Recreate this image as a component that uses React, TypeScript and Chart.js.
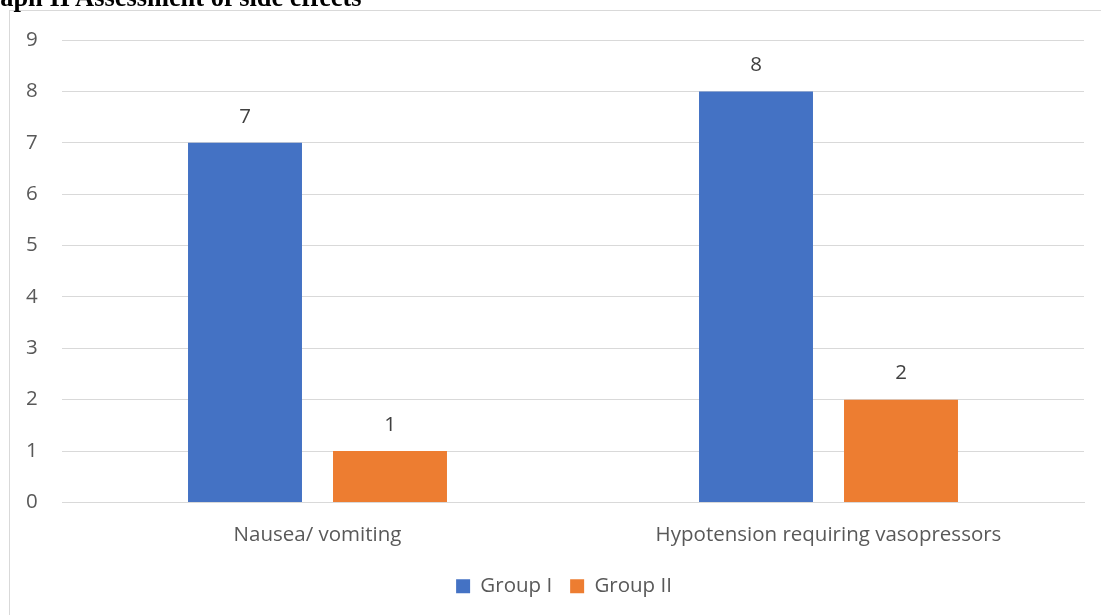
import React, { useEffect, useRef } from "react";
import { Chart, registerables } from "chart.js";

Chart.register(...registerables);

const categories = ["Nausea/ vomiting", "Hypotension requiring vasopressors"];
const seriesNames = ["Group I", "Group II"];
const groupI = [7, 8];
const groupII = [1, 2];
const yTicks = [0, 1, 2, 3, 4, 5, 6, 7, 8, 9];
const colors = ["#4472C4", "#ED7D31"];
const FONT = "'Open Sans', 'Noto Sans', sans-serif";
const FS = 20.5;

const valueLabels = {
  id: "valueLabels",
  afterDatasetsDraw(chart: any) {
    const ctx = chart.ctx;
    ctx.save();
    ctx.font = `${FS}px ${FONT}`;
    ctx.fillStyle = "#404040";
    ctx.textAlign = "center";
    ctx.textBaseline = "middle";
    chart.data.datasets.forEach((ds: any, i: number) => {
      const meta = chart.getDatasetMeta(i);
      meta.data.forEach((bar: any, j: number) => {
        ctx.fillText(String(ds.data[j]), bar.x, bar.y - 26);
      });
    });
    ctx.restore();
  },
};

const legendTweak = {
  id: "legendTweak",
  beforeLayout(chart: any) {
    const lg: any = chart.legend;
    if (!lg || lg.__patched) return;
    lg.__patched = true;
    const fit = lg.fit.bind(lg);
    lg.fit = function () {
      fit();
      this.height = 48;
    };
    const draw = lg.draw.bind(lg);
    lg.draw = function (...args: any[]) {
      const c = this.ctx;
      c.save();
      c.translate(9, -9);
      draw(...args);
      c.restore();
    };
  },
};

export default function App() {
  const ref = useRef<HTMLCanvasElement>(null);
  useEffect(() => {
    if (!ref.current) return;
    const chart = new Chart(ref.current, {
      type: "bar",
      data: {
        labels: categories,
        datasets: [
          { label: seriesNames[0], data: groupI, backgroundColor: colors[0] },
          { label: seriesNames[1], data: groupII, backgroundColor: colors[1] },
        ],
      },
      options: {
        animation: false,
        responsive: false,
        maintainAspectRatio: false,
        layout: { padding: { top: 29, right: 17, left: 16, bottom: 0 } },
        datasets: { bar: { categoryPercentage: 0.5675, barPercentage: 0.786 } } as any,
        scales: {
          x: {
            grid: { display: false, drawTicks: false },
            border: { display: true, color: "#d9d9d9" },
            ticks: { color: "#595959", font: { family: FONT, size: FS }, padding: 20 },
          },
          y: {
            min: 0,
            max: 9,
            afterFit(scale: any) {
              scale.width = 36;
            },
            afterBuildTicks(scale: any) {
              scale.ticks = yTicks.map((v) => ({ value: v }));
            },
            grid: { color: "#d9d9d9", drawTicks: false },
            border: { display: false },
            ticks: {
              color: "#595959",
              font: { family: FONT, size: FS },
              padding: 0,
              crossAlign: "far",
            },
          },
        },
        plugins: {
          legend: {
            position: "bottom",
            labels: {
              color: "#595959",
              font: { family: FONT, size: FS },
              boxWidth: 14,
              boxHeight: 14,
              padding: 18,
            },
          },
          tooltip: { enabled: false },
        },
      },
      plugins: [valueLabels, legendTweak],
    });
    return () => chart.destroy();
  }, []);

  return (
    <div>
      <div
        style={{
          position: "fixed",
          left: 9,
          top: 10,
          width: 1200,
          height: 700,
          borderTop: "1px solid #d9d9d9",
          borderLeft: "1px solid #d9d9d9",
          boxSizing: "border-box",
        }}
      />
      <canvas
        ref={ref}
        width={1091}
        height={604}
        style={{ position: "fixed", left: 10, top: 11, width: 1091, height: 604 }}
      />
      <div
        style={{
          position: "fixed",
          left: -32,
          top: -18,
          fontFamily: "'Liberation Serif', 'Times New Roman', serif",
          fontWeight: "bold",
          fontSize: 26.4,
          lineHeight: "30px",
          whiteSpace: "nowrap",
          color: "#000",
        }}
      >
        Graph II Assessment of side effects
      </div>
    </div>
  );
}
